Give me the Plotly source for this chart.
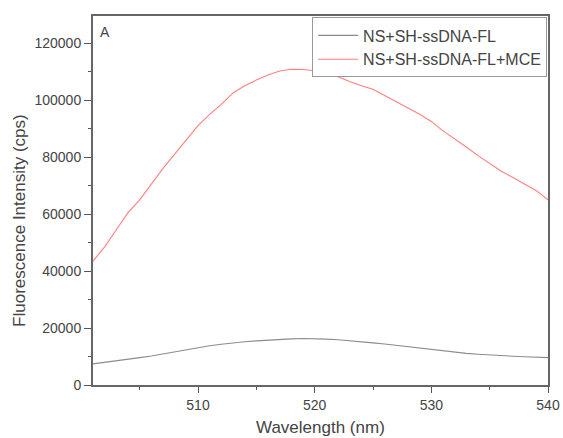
import plotly.graph_objects as go

wavelength = list(range(501, 541))
ns_fl = [7400, 7900, 8400, 9000, 9600, 10200, 10900, 11700, 12500, 13200,
         13800, 14300, 14800, 15200, 15500, 15800, 16000, 16200, 16300, 16300,
         16100, 15900, 15600, 15200, 14800, 14400, 13900, 13400, 13000, 12500,
         12000, 11500, 11100, 10800, 10500, 10300, 10100, 9900, 9800, 9600]
ns_fl_mce = [43500, 48500, 54500, 60500, 65000, 70500, 76000, 81000, 86000, 91000,
             95000, 98500, 102500, 105000, 107000, 108800, 110200, 110800, 110700, 110300,
             109500, 108200, 106500, 105000, 103800, 101500, 99200, 97200, 95000, 92500,
             89200, 86500, 83500, 80500, 77800, 75000, 72800, 70500, 68200, 65000]
series_names = ["NS+SH-ssDNA-FL", "NS+SH-ssDNA-FL+MCE"]

fig = go.Figure()
fig.add_trace(go.Scatter(x=wavelength, y=ns_fl, mode="lines", name=series_names[0],
                         line=dict(color="#8c8c8c", width=1.1)))
fig.add_trace(go.Scatter(x=wavelength, y=ns_fl_mce, mode="lines", name=series_names[1],
                         line=dict(color="#ff7f7f", width=1.1)))

fig.update_layout(
    width=563, height=438,
    margin=dict(l=93, r=15, t=16, b=53, autoexpand=False),
    paper_bgcolor="white", plot_bgcolor="white",
    font=dict(family="Liberation Sans, Arial, sans-serif", size=14, color="#444"),
    showlegend=True,
    legend=dict(x=0.998, y=0.996, xanchor="right", yanchor="top",
                bordercolor="#999", borderwidth=1, bgcolor="white",
                font=dict(size=16, color="#444"), tracegroupgap=0,
                itemwidth=40),
    xaxis=dict(range=[501, 540], tickmode="array", tickvals=[510, 520, 530, 540],
               ticks="outside", ticklen=6, tickcolor="#555", showgrid=False,
               ticklabeloverflow="allow",
               zeroline=False, showline=True, linecolor="#666", linewidth=2, mirror=True,
               minor=dict(tickvals=[505, 515, 525, 535], ticks="outside", ticklen=3, tickcolor="#555")),
    yaxis=dict(range=[0, 129500], tickmode="array",
               tickvals=[0, 20000, 40000, 60000, 80000, 100000, 120000],
               ticktext=["0", "20000", "40000", "60000", "80000", "100000", "120000"],
               ticks="outside", ticklen=7, tickcolor="#555", showgrid=False,
               ticklabeloverflow="allow",
               zeroline=False, showline=True, linecolor="#666", linewidth=2, mirror=True,
               minor=dict(tickvals=[10000, 30000, 50000, 70000, 90000, 110000], ticks="outside",
                          ticklen=3, tickcolor="#555")),
    annotations=[
        dict(text="A", x=0.01, y=0.985, xref="paper", yref="paper",
             xanchor="left", yanchor="top", showarrow=False,
             font=dict(size=14, color="#444")),
        dict(text="Fluorescence Intensity (cps)", x=-0.163, y=0.447, xref="paper", yref="paper",
             xanchor="center", yanchor="middle", textangle=-90, showarrow=False,
             font=dict(size=17, color="#444")),
        dict(text="Wavelength (nm)", x=0.5, y=-0.1165, xref="paper", yref="paper",
             xanchor="center", yanchor="middle", showarrow=False,
             font=dict(size=17, color="#444")),
    ],
)

fig.write_html("out.html",
               config={"displayModeBar": False},
               post_script="document.body.style.margin='0';document.body.style.overflow='hidden';")
